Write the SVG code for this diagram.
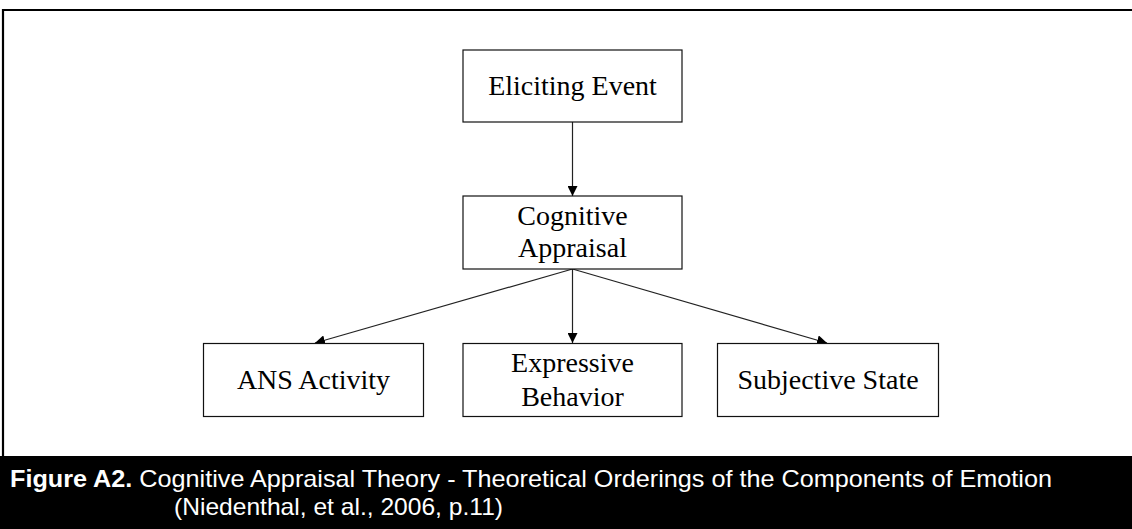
<svg xmlns="http://www.w3.org/2000/svg" width="1132" height="529" viewBox="0 0 1132 529">
<defs>
<style>
.box{fill:#fff;stroke:#111;stroke-width:1.2}
.lbl{font-family:"Liberation Serif","Times New Roman",serif;font-size:28px;fill:#000;text-anchor:middle}
.con{stroke:#222;stroke-width:1.2;fill:none}
.cap{font-family:"Liberation Sans",Arial,sans-serif;font-size:24px;fill:#fff}
</style>
<marker id="ah" viewBox="0 0 10 10" refX="10" refY="5" markerWidth="10" markerHeight="10" markerUnits="userSpaceOnUse" orient="auto">
<path d="M0,0 L10,5 L0,10 Z" fill="#000"/>
</marker>
</defs>
<rect x="0" y="0" width="1132" height="529" fill="#fff"/>
<path d="M3,456 V10 H1132" fill="none" stroke="#000" stroke-width="2.2"/>
<g id="connectors">
<line class="con" x1="572.5" y1="122" x2="572.5" y2="196" marker-end="url(#ah)"/>
<line class="con" x1="572.5" y1="269" x2="315" y2="343" marker-end="url(#ah)"/>
<line class="con" x1="572.5" y1="269" x2="572.5" y2="343" marker-end="url(#ah)"/>
<line class="con" x1="572.5" y1="269" x2="827" y2="343" marker-end="url(#ah)"/>
</g>
<g id="eliciting-event">
<rect class="box" x="463" y="50" width="219" height="72"/>
<text class="lbl" x="572.5" y="95">Eliciting Event</text>
</g>
<g id="cognitive-appraisal">
<rect class="box" x="463" y="196" width="219" height="73"/>
<text class="lbl" x="572.5" y="225">Cognitive</text>
<text class="lbl" x="572.5" y="257">Appraisal</text>
</g>
<g id="ans-activity">
<rect class="box" x="203.5" y="343.5" width="220" height="73"/>
<text class="lbl" x="313.5" y="389">ANS Activity</text>
</g>
<g id="expressive-behavior">
<rect class="box" x="463" y="343.5" width="219" height="73"/>
<text class="lbl" x="572.5" y="372">Expressive</text>
<text class="lbl" x="572.5" y="406">Behavior</text>
</g>
<g id="subjective-state">
<rect class="box" x="717.5" y="343.5" width="221" height="73"/>
<text class="lbl" x="828" y="389">Subjective State</text>
</g>
<g id="caption">
<rect x="0" y="456" width="1132" height="73" fill="#000"/>
<text class="cap" x="10" y="487" textLength="1042" lengthAdjust="spacingAndGlyphs"><tspan font-weight="bold">Figure A2.</tspan> Cognitive Appraisal Theory - Theoretical Orderings of the Components of Emotion</text>
<text class="cap" x="174" y="515" textLength="329" lengthAdjust="spacingAndGlyphs">(Niedenthal, et al., 2006, p.11)</text>
</g>
</svg>
